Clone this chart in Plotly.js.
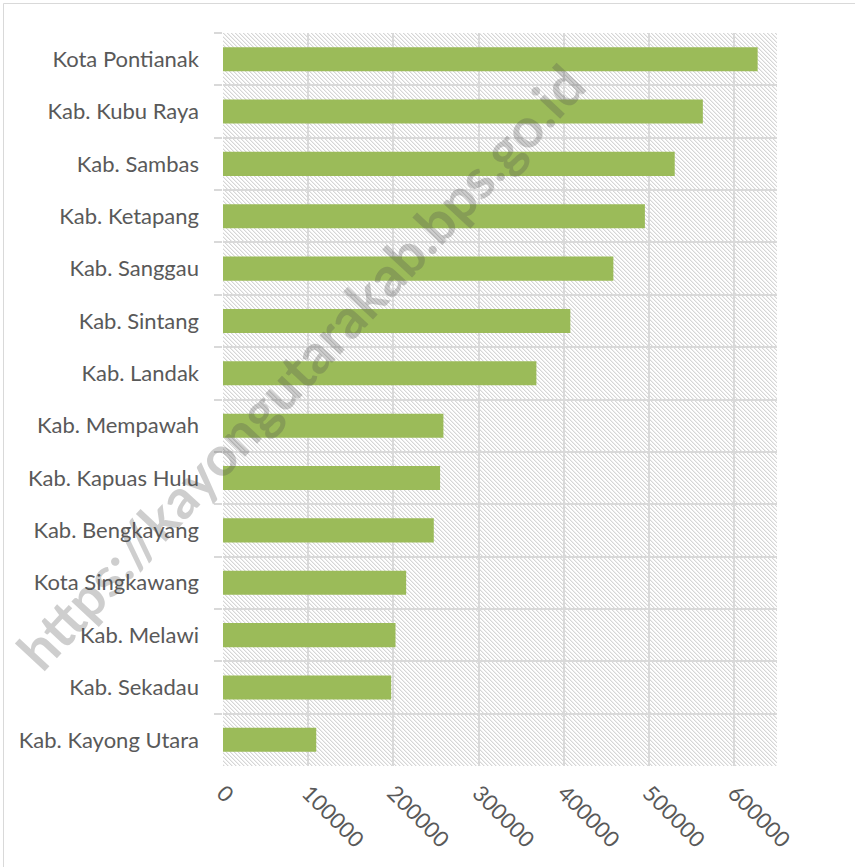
<!DOCTYPE html>
<html>
<head>
<meta charset="utf-8">
<script src="https://cdn.plot.ly/plotly-3.0.1.min.js"></script>
<style>html,body{margin:0;padding:0;background:#fff;}</style>
</head>
<body>
<div id="chart" style="width:855px;height:867px;"></div>
<script>
// Categories (top to bottom) and values
const regions = [
  "Kota Pontianak", "Kab. Kubu Raya", "Kab. Sambas", "Kab. Ketapang",
  "Kab. Sanggau", "Kab. Sintang", "Kab. Landak", "Kab. Mempawah",
  "Kab. Kapuas Hulu", "Kab. Bengkayang", "Kota Singkawang", "Kab. Melawi",
  "Kab. Sekadau", "Kab. Kayong Utara"
];
const population = [
  627300, 563000, 530000, 495000,
  458000, 407500, 367700, 258600,
  254700, 247300, 214900, 202400,
  197300, 109400
];
const xTicks = [0, 100000, 200000, 300000, 400000, 500000, 600000];
const xTickLabels = ["0", "100000", "200000", "300000", "400000", "500000", "600000"];
const watermark = "https://kayongutarakab.bps.go.id";

const W = 855, H = 867;
const mL = 223, mR = 78, mT = 33, mB = 101;
const pw = W - mL - mR, ph = H - mT - mB;

// hatch background tile (downward diagonal)
const dark = "#d6d6d6", soft = "#eeeeee";
let tile = "";
for (let i = 0; i < 4; i++) {
  tile += "<rect x='" + i + "' y='" + i + "' width='1' height='1' fill='" + dark + "'/>";
  tile += "<rect x='" + ((i + 1) % 4) + "' y='" + i + "' width='1' height='1' fill='" + soft + "'/>";
}
const hatchSvg =
  "<svg xmlns='http://www.w3.org/2000/svg' width='" + pw + "' height='" + ph + "' shape-rendering='crispEdges'>" +
  "<defs><pattern id='h' width='4' height='4' patternUnits='userSpaceOnUse'>" + tile +
  "</pattern></defs><rect width='100%' height='100%' fill='url(#h)'/></svg>";
const hatchSrc = "data:image/svg+xml;charset=utf-8," + encodeURIComponent(hatchSvg);

const font = "Lato, 'Open Sans', sans-serif";

const trace = {
  type: "bar",
  orientation: "h",
  y: regions,
  x: population,
  marker: {color: "#9bbb59"},
  hoverinfo: "x+y"
};

const layout = {
  width: W, height: H,
  margin: {l: mL, r: mR, t: mT, b: mB, pad: 0},
  paper_bgcolor: "#ffffff",
  plot_bgcolor: "#ffffff",
  showlegend: false,
  bargap: 0.54,
  font: {family: font, color: "#595959", size: 22},
  xaxis: {
    range: [0, 650000],
    tickvals: xTicks,
    ticktext: xTickLabels,
    tickangle: 45,
    showgrid: true,
    gridcolor: "#d9d9d9",
    gridwidth: 2,
    zeroline: false,
    showline: false,
    ticks: "",
    ticklabelstandoff: 9,
    tickfont: {family: font, size: 22, color: "#595959"}
  },
  yaxis: {
    type: "category",
    autorange: "reversed",
    tickson: "boundaries",
    ticks: "outside",
    ticklen: 8,
    tickwidth: 2,
    tickcolor: "#d9d9d9",
    showgrid: true,
    gridcolor: "#d9d9d9",
    gridwidth: 2,
    zeroline: false,
    showline: false,
    ticklabelstandoff: 23,
    tickfont: {family: font, size: 22, color: "#595959"}
  },
  images: [{
    source: hatchSrc,
    xref: "paper", yref: "paper",
    x: 0, y: 1, sizex: 1, sizey: 1,
    xanchor: "left", yanchor: "top",
    sizing: "stretch",
    layer: "below"
  }],
  shapes: [{
    type: "rect", xref: "paper", yref: "paper",
    x0: (3.5 - mL) / pw, x1: (858 - mL) / pw,
    y0: (H - mB - 870) / ph, y1: (H - mB - 3.5) / ph,
    line: {color: "#d9d9d9", width: 1},
    fillcolor: "rgba(0,0,0,0)"
  }],
  annotations: [{
    text: "<b>" + watermark + "</b>",
    xref: "paper", yref: "paper",
    x: (300 - mL) / pw, y: (H - mB - 367) / ph,
    xanchor: "center", yanchor: "middle",
    textangle: -47,
    showarrow: false,
    font: {family: font, size: 55, color: "rgba(80,80,80,0.28)"}
  }]
};

Plotly.newPlot("chart", [trace], layout, {displayModeBar: false, staticPlot: true});
</script>
</body>
</html>
